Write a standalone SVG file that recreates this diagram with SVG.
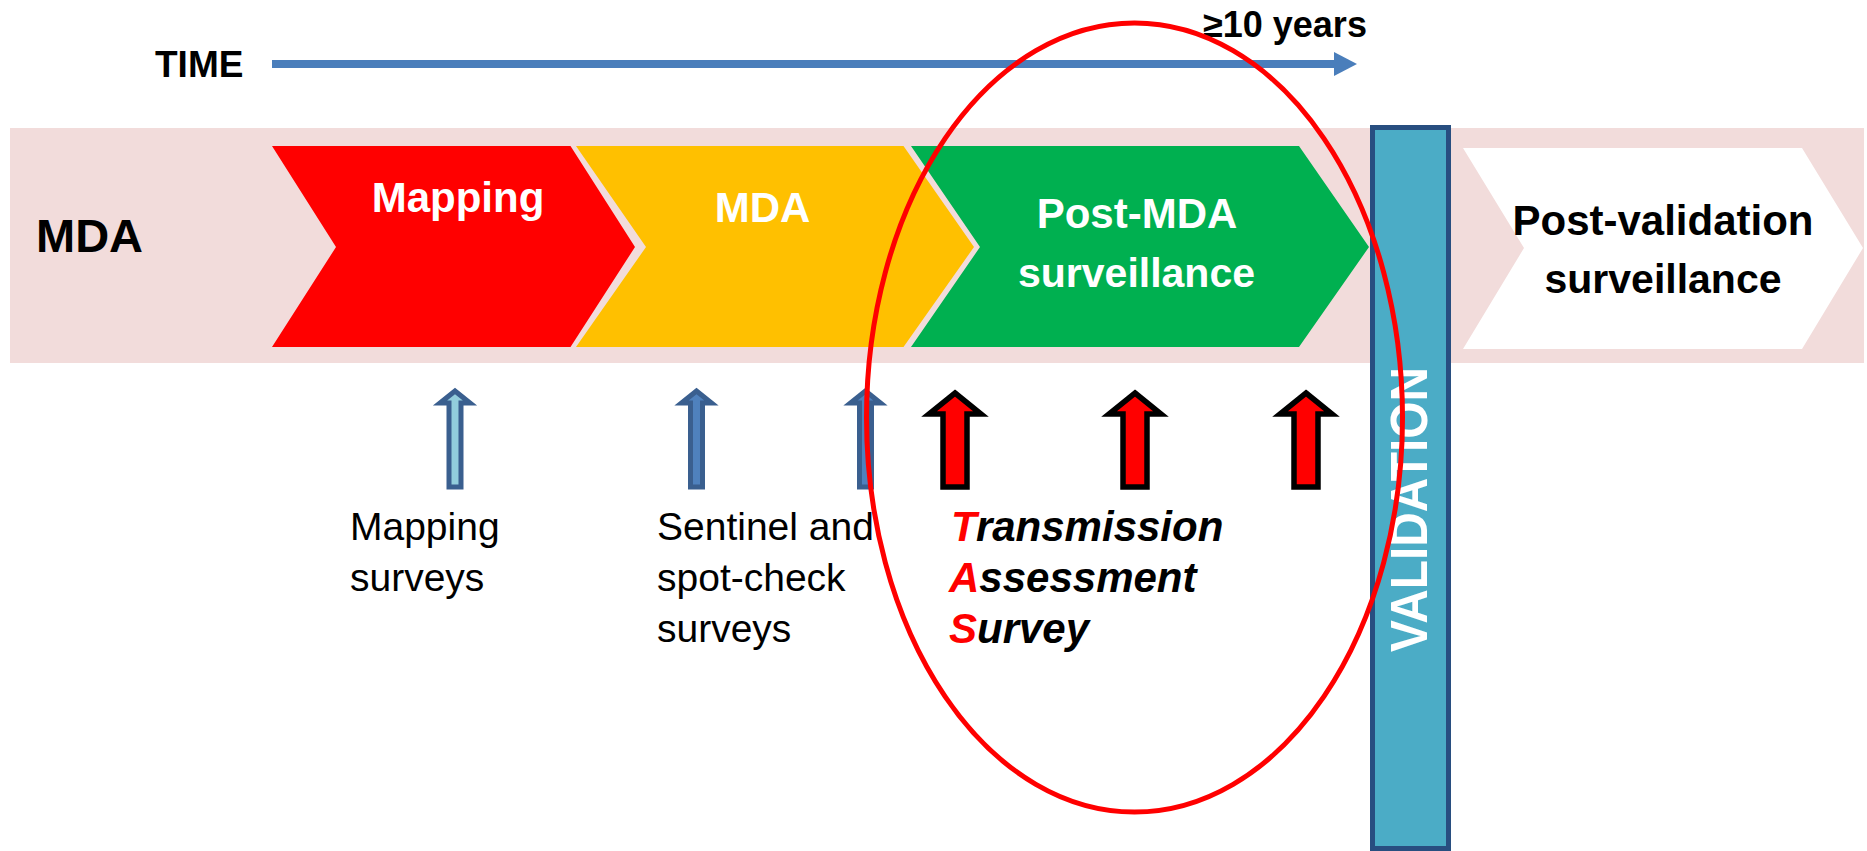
<svg xmlns="http://www.w3.org/2000/svg" width="1867" height="851" viewBox="0 0 1867 851">
  <defs>
    <style>
      .hdr { font-family: "Liberation Sans", Arial, sans-serif; font-weight: bold; }
      .wh { fill: #ffffff; }
      .bk { fill: #000000; }
      .reg { font-family: "Liberation Sans", Arial, sans-serif; font-size: 39px; fill: #000000; }
      .tas { font-family: "Liberation Sans", Arial, sans-serif; font-size: 42px; font-weight: bold; font-style: italic; fill: #000000; }
      .tasr { fill: #ff0000; }
      .barrow { stroke: #3a5f8f; stroke-width: 5; stroke-linejoin: miter; }
      .rarrow { fill: #ff0000; stroke: #000000; stroke-width: 5.5; stroke-linejoin: miter; }
    </style>
  </defs>
  <rect x="0" y="0" width="1867" height="851" fill="#ffffff"/>

  <g id="band">
    <rect x="10" y="128" width="1854" height="235" fill="#f2dcdb"/>
  </g>

  <g id="label-mda">
    <text class="hdr bk" x="36" y="252" font-size="47">MDA</text>
  </g>

  <g id="phase-mapping">
    <polygon points="272,146 570.5,146 635,247 570.5,347 272,347 336,247" fill="#ff0000"/>
    <text class="hdr wh" x="458" y="212" font-size="42" text-anchor="middle">Mapping</text>
  </g>
  <g id="phase-mda">
    <polygon points="576,146 903.5,146 974,247 903.5,347 576,347 646,247" fill="#ffc000"/>
    <text class="hdr wh" x="762.5" y="222" font-size="42" text-anchor="middle">MDA</text>
  </g>
  <g id="phase-post-mda">
    <polygon points="911,146 1299,146 1369,247 1299,347 911,347 980,247" fill="#00b050"/>
    <text class="hdr wh" x="1137" y="228" font-size="42" text-anchor="middle">Post-MDA</text>
    <text class="hdr wh" x="1136.5" y="287" font-size="41" text-anchor="middle">surveillance</text>
  </g>
  <g id="phase-post-validation">
    <polygon points="1463,148 1802,148 1863,248 1802,349 1463,349 1524,248" fill="#ffffff"/>
    <text class="hdr bk" x="1663" y="235" font-size="42" text-anchor="middle">Post-validation</text>
    <text class="hdr bk" x="1663" y="293" font-size="41" text-anchor="middle">surveillance</text>
  </g>

  <g id="validation">
    <rect x="1372.5" y="127.5" width="76" height="721" fill="#4bacc6" stroke="#284e80" stroke-width="5"/>
    <text class="hdr wh" font-size="52" text-anchor="middle" textLength="285" lengthAdjust="spacingAndGlyphs" transform="translate(1427,509.5) rotate(-90)" x="0" y="0">VALIDATION</text>
  </g>

  <g id="time">
    <text class="hdr bk" x="155" y="77" font-size="37">TIME</text>
    <text class="hdr bk" x="1203" y="37" font-size="36">≥10 years</text>
  </g>

  <g id="connectors">
    <line x1="272" y1="64" x2="1336" y2="64" stroke="#4a7ebb" stroke-width="8"/>
    <polygon points="1334,52 1357,64 1334,76" fill="#4a7ebb"/>
    <path class="barrow" fill="#92cddc" d="M455,391 L470,403 L461,403 L461,487 L449,487 L449,403 L440,403 Z"/>
    <path class="barrow" fill="#4f81bd" d="M696.5,391 L711.5,403 L702.5,403 L702.5,487 L690.5,487 L690.5,403 L681.5,403 Z"/>
    <path class="barrow" fill="#4f81bd" d="M865.5,391 L880.5,403 L871.5,403 L871.5,487 L859.5,487 L859.5,403 L850.5,403 Z"/>
    <path class="rarrow" d="M955,393 L981,414 L967,414 L967,487 L943,487 L943,414 L929,414 Z"/>
    <path class="rarrow" d="M1135,393 L1161,414 L1147,414 L1147,487 L1123,487 L1123,414 L1109,414 Z"/>
    <path class="rarrow" d="M1306,393 L1332,414 L1318,414 L1318,487 L1294,487 L1294,414 L1280,414 Z"/>
  </g>

  <g id="label-mapping-surveys">
    <text class="reg" x="350" y="540">Mapping</text>
    <text class="reg" x="350" y="591">surveys</text>
  </g>
  <g id="label-sentinel">
    <text class="reg" x="657" y="540">Sentinel and</text>
    <text class="reg" x="657" y="591">spot-check</text>
    <text class="reg" x="657" y="642">surveys</text>
  </g>
  <g id="label-tas">
    <text class="tas" x="951" y="541"><tspan class="tasr">T</tspan>ransmission</text>
    <text class="tas" x="949" y="592"><tspan class="tasr">A</tspan>ssessment</text>
    <text class="tas" x="949" y="643"><tspan class="tasr">S</tspan>urvey</text>
  </g>

  <g id="highlight">
    <ellipse cx="1134.5" cy="417.5" rx="268" ry="394.5" fill="none" stroke="#ff0000" stroke-width="5"/>
  </g>
</svg>
